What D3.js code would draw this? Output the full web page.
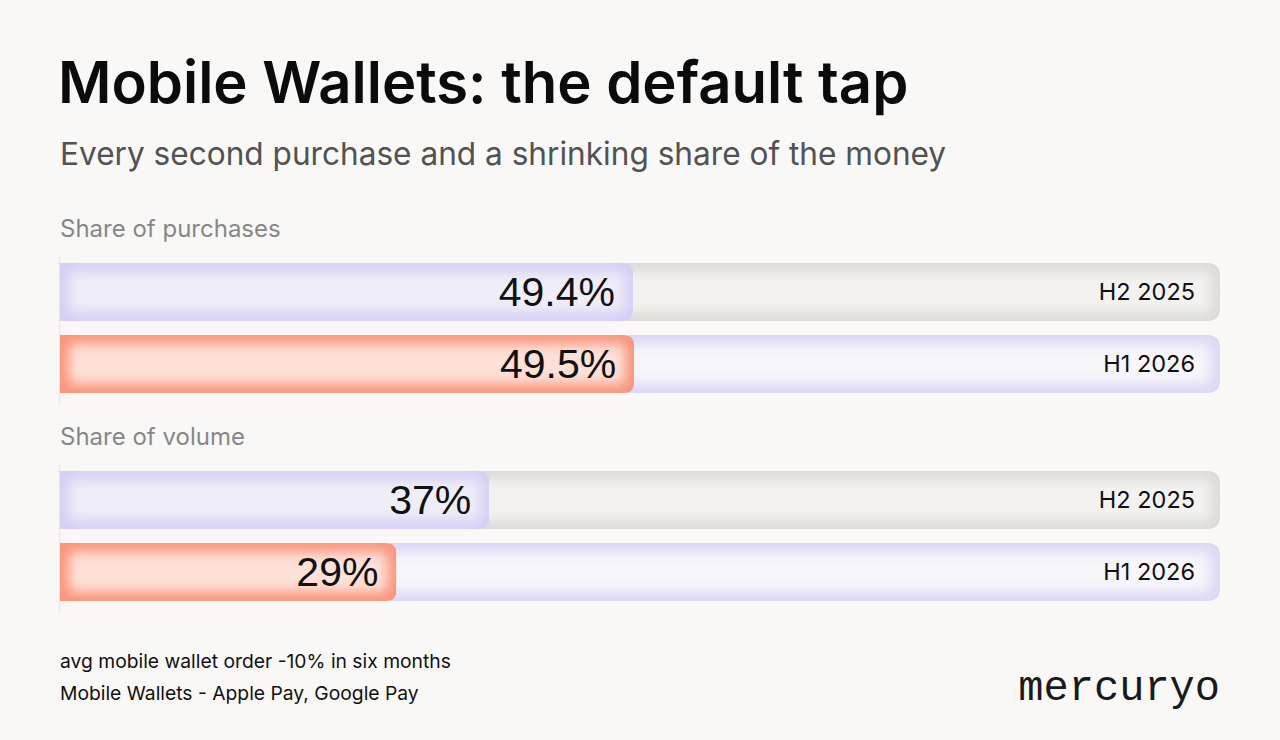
<!DOCTYPE html>
<html>
<head>
<meta charset="utf-8">
<script src="https://cdn.jsdelivr.net/npm/d3@7/dist/d3.min.js"></script>
<style>
  html, body { margin: 0; padding: 0; background: #f9f8f6; }
  svg { display: block; }
</style>
</head>
<body>
<svg id="chart" width="1280" height="740"></svg>
<script>
// ---- data ----
const sections = ["Share of purchases", "Share of volume"];
const periods = ["H2 2025", "H1 2026"];
const purchasesShare = [49.4, 49.5];
const volumeShare = [37, 29];
const valueLabels = [["49.4%", "49.5%"], ["37%", "29%"]];
const title = "Mobile Wallets: the default tap";
const subtitle = "Every second purchase and a shrinking share of the money";
const notes = ["avg mobile wallet order -10% in six months", "Mobile Wallets - Apple Pay, Google Pay"];
const brand = "mercuryo";

const sectionValues = [purchasesShare, volumeShare];

// ---- layout ----
const W = 1280, H = 740;
const left = 60, right = 1220;
const svg = d3.select("#chart");
svg.append("rect").attr("width", W).attr("height", H).attr("fill", "#f9f8f6");

const x = d3.scaleLinear().domain([0, 100]).range([left, right]);
const sectionTop = d3.scaleOrdinal().domain(sections).range([263, 471]);
const barH = 58;
const rowY = d3.scaleOrdinal().domain(periods).range([0, 72]);

const sans = "Inter, 'Noto Sans', sans-serif";
const arial = "'Liberation Sans', Arial, sans-serif";

const trackStyle = {
  "H2 2025": { edge: "#dcdbd8", center: "#f3f2f0" },
  "H1 2026": { edge: "#dcd7f6", center: "#f6f5f9" }
};
const fillStyle = {
  "H2 2025": { edge: "#d6d0f5", center: "#efedf7" },
  "H1 2026": { edge: "#f9967c", center: "#fde0d7" }
};

const defs = svg.append("defs");
defs.append("filter").attr("id", "soft").attr("x", "-20%").attr("y", "-50%").attr("width", "140%").attr("height", "200%")
  .append("feGaussianBlur").attr("stdDeviation", 6);

// title
svg.append("text").attr("x", left - 2).attr("y", 103).text(title)
  .attr("font-family", sans).attr("font-weight", 600).attr("font-size", 58).attr("fill", "#0b0b0b");
svg.append("text").attr("x", left).attr("y", 165).text(subtitle)
  .attr("font-family", sans).attr("font-size", 31.6).attr("fill", "#525252");

let clipId = 0;
function glowRect(g, x0, y0, w, h, r, style) {
  const id = "clip" + (clipId++);
  const cp = defs.append("clipPath").attr("id", id);
  const path = roundedPath(x0, y0, w, h, r);
  cp.append("path").attr("d", path);
  const gg = g.append("g").attr("clip-path", `url(#${id})`);
  gg.append("path").attr("d", path).attr("fill", style.edge);
  const inset = 9;
  gg.append("rect").attr("x", x0 + inset).attr("y", y0 + inset)
    .attr("width", Math.max(0, w - inset * 2)).attr("height", h - inset * 2)
    .attr("rx", 6).attr("fill", style.center).attr("filter", "url(#soft)");
}
function roundedPath(x0, y0, w, h, r) {
  return `M${x0},${y0} H${x0 + w - r} Q${x0 + w},${y0} ${x0 + w},${y0 + r} V${y0 + h - r} Q${x0 + w},${y0 + h} ${x0 + w - r},${y0 + h} H${x0} Z`;
}

sections.forEach((sec, si) => {
  const top = sectionTop(sec);
  svg.append("text").attr("x", left).attr("y", top - 26).text(sec)
    .attr("font-family", sans).attr("font-size", 24).attr("fill", "#878787");
  svg.append("line").attr("x1", left - 0.5).attr("x2", left - 0.5)
    .attr("y1", top - 6).attr("y2", top + 72 + barH + 12)
    .attr("stroke", "#ebe9e6").attr("stroke-width", 1.5);

  periods.forEach((p, pi) => {
    const v = sectionValues[si][pi];
    const yy = top + rowY(p);
    const g = svg.append("g");
    glowRect(g, x(0), yy, x(100) - x(0), barH, 12, trackStyle[p]);
    glowRect(g, x(0), yy, x(v) - x(0), barH, 10, fillStyle[p]);
    g.append("text").attr("x", x(v) - 18).attr("y", yy + barH / 2 + 14)
      .attr("text-anchor", "end").text(valueLabels[si][pi])
      .attr("font-family", arial).attr("font-size", 41).attr("fill", "#111");
    g.append("text").attr("x", right - 25).attr("y", yy + barH / 2 + 8)
      .attr("text-anchor", "end").text(p)
      .attr("font-family", sans).attr("font-size", 23.5).attr("fill", "#111");
  });
});

notes.forEach((n, i) => {
  svg.append("text").attr("x", left).attr("y", 668 + i * 32).text(n)
    .attr("font-family", sans).attr("font-size", 19.3).attr("fill", "#111");
});
svg.append("text").attr("x", right).attr("y", 700).attr("text-anchor", "end").text(brand)
  .attr("font-family", "'Liberation Mono', 'DejaVu Sans Mono', monospace").attr("font-size", 42).attr("fill", "#1a1a1a");
</script>
</body>
</html>
